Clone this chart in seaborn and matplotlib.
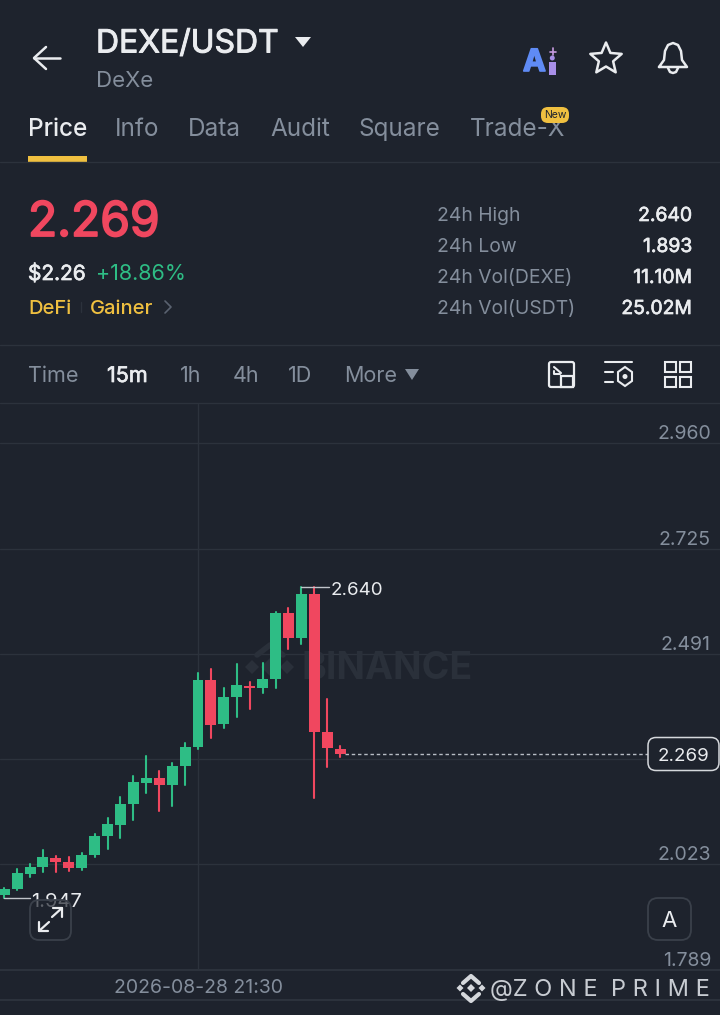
import matplotlib
matplotlib.use("Agg")
import matplotlib.pyplot as plt
import matplotlib.patheffects as pe
from matplotlib.patches import FancyBboxPatch, Polygon, Rectangle, Circle
import numpy as np
import pandas as pd
import seaborn as sns

# candle data (15m candles, oldest first)
opens = [1.955, 1.968, 2.001, 2.017, 2.037, 2.028, 2.015, 2.044, 2.086, 2.110, 2.157, 2.204, 2.215, 2.199,
         2.242, 2.284, 2.433, 2.335, 2.395, 2.420, 2.415, 2.435, 2.582, 2.526, 2.624, 2.317, 2.279]
closes = [1.968, 2.004, 2.017, 2.039, 2.028, 2.015, 2.044, 2.086, 2.113, 2.157, 2.206, 2.215, 2.199, 2.242,
          2.284, 2.433, 2.333, 2.395, 2.422, 2.415, 2.435, 2.582, 2.526, 2.624, 2.317, 2.282, 2.269]
highs = [1.970, 2.013, 2.024, 2.055, 2.042, 2.039, 2.048, 2.090, 2.126, 2.173, 2.219, 2.264, 2.231, 2.248,
         2.293, 2.448, 2.457, 2.415, 2.468, 2.428, 2.471, 2.584, 2.593, 2.640, 2.640, 2.391, 2.286]
lows = [1.947, 1.966, 1.995, 2.006, 2.006, 2.008, 2.010, 2.039, 2.057, 2.082, 2.122, 2.182, 2.142, 2.153,
        2.199, 2.279, 2.304, 2.326, 2.351, 2.368, 2.404, 2.415, 2.502, 2.513, 2.170, 2.239, 2.262]

grid_prices = [2.960, 2.725, 2.491, 2.257, 2.023, 1.789]
axis_labels = ["2.960", "2.725", "2.491", "", "2.023", "1.789"]
last_price = 2.269
high_price = 2.640
low_price = 1.947
cursor_candle = 15
cursor_label = "2026-08-28 21:30"

tabs = ["Price", "Info", "Data", "Audit", "Square", "Trade-X"]
stat_names = ["24h High", "24h Low", "24h Vol(DEXE)", "24h Vol(USDT)"]
stat_values = ["2.640", "1.893", "11.10M", "25.02M"]
intervals = ["Time", "15m", "1h", "4h", "1D", "More"]

BG = "#1e232d"
GRID = "#2c323c"
MARK = "#2a303a"
GREEN = "#2ebd85"
RED = "#f0475f"
GREY = "#848e9c"
WHITE = "#eaecef"
YELLOW = "#f0c040"

sns.set_theme(style="dark")
plt.rcParams["font.family"] = ["Inter", "DejaVu Sans"]
plt.rcParams["axes.facecolor"] = BG
plt.rcParams["figure.facecolor"] = BG

df = pd.DataFrame({"i": range(len(opens)), "open": opens, "close": closes, "high": highs, "low": lows})
df["up"] = df["close"] >= df["open"]
df["bottom"] = df[["open", "close"]].min(axis=1)
df["body"] = (df["open"] - df["close"]).abs()
wicks = df.melt(id_vars=["i", "up"], value_vars=["high", "low"], value_name="price")

fig = plt.figure(figsize=(7.2, 10.15), dpi=100)

# chart panel spans y=404..970 px of the screen
ax = fig.add_axes([0, 1 - 970 / 1015, 1, (970 - 404) / 1015])
ax.set_zorder(1)


def panel(px, py):
    return px / 720, (970 - py) / 566


for level in grid_prices:
    ax.axhline(level, color=GRID, lw=1, zorder=0)
ax.axvline(cursor_candle, color=GRID, lw=1, zorder=0)

# watermark sits behind the candles
ax.text(*panel(301, 669), "BINANCE", transform=ax.transAxes, color=MARK, fontsize=27, fontweight="bold",
        ha="left", va="center", zorder=0.5)
for px, size in [(252, 7), (270, 9), (287, 7)]:
    ax.plot(*panel(px, 667), marker="D", ms=size, color=MARK, mew=0, transform=ax.transAxes, zorder=0.5)
ax.plot(*zip(panel(257, 655), panel(270, 645), panel(283, 655)), color=MARK, lw=4, transform=ax.transAxes, zorder=0.5)

sns.lineplot(data=wicks, x="i", y="price", units="i", estimator=None, hue="up",
             palette={True: GREEN, False: RED}, lw=1.5, legend=False, ax=ax, zorder=2)
for is_up, color in [(True, GREEN), (False, RED)]:
    part = df[df["up"] == is_up]
    sns.barplot(data=part, x="i", y="body", bottom=part["bottom"].values, native_scale=True, color=color,
                saturation=1, width=0.85, errorbar=None, edgecolor=color, linewidth=0, ax=ax, zorder=3)

ax.set_xlim(-4.2 / 12.92, (720 - 4.2) / 12.92)
ax.set_ylim(2.96 - 527 * 0.002224, 2.96 + 39 * 0.002224)
ax.set_xlabel("")
ax.set_ylabel("")
ax.set_xticks([])
ax.set_yticks([])
sns.despine(ax=ax, left=True, bottom=True)

for level, text in zip(grid_prices, axis_labels):
    ax.annotate(text, (1, level), xycoords=("axes fraction", "data"), xytext=(-6.5, 0), textcoords="offset points",
                color=GREY, fontsize=14, ha="right", va="bottom", zorder=4)

# last price line, the tag itself goes on the top layer
n = len(df) - 1
ax.plot([n + 0.4, 49.9], [last_price, last_price], color="#b7bcc4", lw=1, ls=(0, (2.5, 2)), zorder=2)

# high and low markers
hi = df["high"].idxmax()
lo = df["low"].idxmin()
ax.plot([hi, hi + 2.15], [high_price, high_price], color="#c0c4ca", lw=1, zorder=2)
ax.annotate(f"{high_price:.3f}", (hi + 2.15, high_price), xytext=(1, -2.5), textcoords="offset points",
            color=WHITE, fontsize=13.5, ha="left", va="center", zorder=4)
ax.plot([lo, lo + 2.0], [low_price, low_price], color="#c0c4ca", lw=1, zorder=2)
ax.annotate(f"{low_price:.3f}", (lo + 2.0, low_price), xytext=(1, -2.5), textcoords="offset points",
            color=WHITE, fontsize=14.5, ha="left", va="center", zorder=4)

# everything around the chart is drawn in screen pixels
ui = fig.add_axes([0, 0, 1, 1])
ui.set_zorder(2)
ui.set_xlim(0, 720)
ui.set_ylim(1015, 0)
ui.axis("off")
ui.patch.set_alpha(0)


def label(x, y, s, size=14, color=GREY, ha="left", weight="normal", thick=0, **kw):
    if thick:
        kw["path_effects"] = [pe.withStroke(linewidth=thick, foreground=color)]
    return ui.text(x, y + 4, s, fontsize=size, color=color, ha=ha, va="center", fontweight=weight, **kw)


def stroke(xs, ys, color=WHITE, lw=1.8, z=7):
    ui.plot(xs, ys, color=color, lw=lw, solid_capstyle="round", solid_joinstyle="round", zorder=z)


def box(x, y, w, h, r=8, fc=BG, ec="#3a404a", lw=1.3, z=5):
    ui.add_patch(FancyBboxPatch((x + r, y + r), w - 2 * r, h - 2 * r, boxstyle=f"round,pad={r}",
                                fc=fc, ec=ec, lw=lw, zorder=z))


def diamond(cx, cy, r, color):
    ui.add_patch(Polygon([(cx - r, cy), (cx, cy - r), (cx + r, cy), (cx, cy + r)], color=color, lw=0))


# header
stroke([34, 60], [58, 58])
stroke([46, 34, 46], [47, 58, 69])
label(96, 40, "DEXE/USDT", 23, WHITE, thick=0.7)
ui.add_patch(Polygon([(295, 37), (311, 37), (303, 47)], color=WHITE, lw=0))
label(96, 77, "DeXe", 16)

label(523, 59, "A", 22, "#5f8bf5", weight="bold", thick=1.2)
ui.add_patch(Rectangle((549, 62), 6.5, 13, color="#a88fe8", lw=0))
ui.add_patch(Circle((552.3, 58), 2.5, color="#a88fe8", lw=0))
stroke([552.5, 552.5], [48, 55], "#c79be0", 1.2)
stroke([549.5, 555.5], [51.5, 51.5], "#c79be0", 1.2)

angles = np.deg2rad(np.arange(-90, 270, 36))
radii = np.tile([16.5, 7.5], 5)
star = np.c_[606 + radii * np.cos(angles), 59 + radii * np.sin(angles)]
ui.add_patch(Polygon(star, fill=False, ec=WHITE, lw=1.8, joinstyle="round"))

bell_x = [659, 664, 665, 668, 673, 678, 681, 682, 687, 659]
bell_y = [67, 60, 51, 45, 43, 45, 51, 60, 67, 67]
ui.plot(bell_x, bell_y, color=WHITE, lw=1.8, solid_joinstyle="round")
stroke([668, 670, 673, 676, 678], [68, 72, 73, 72, 68])

tab_x = [28, 115, 188, 270, 359, 470]
for j, (name, x) in enumerate(zip(tabs, tab_x)):
    label(x, 125, name, 17.5, WHITE if j == 0 else GREY, weight="medium" if j == 0 else "normal")
ui.add_patch(Rectangle((28, 156), 59, 6, color=YELLOW, lw=0))
box(541, 107, 28, 16, r=7, fc=YELLOW, ec=YELLOW, lw=0, z=4)
label(555, 111, "New", 7.5, "#1e232d", ha="center", zorder=5)
ui.plot([0, 720], [162, 162], color=GRID, lw=1)

# price block
label(28, 219, "2.269", 34.5, RED, thick=1.3)
label(28, 270, "$2.26", 15, WHITE, thick=0.5)
label(96, 270, "+18.86%", 15.5, GREEN)
label(28, 305, "DeFi", 14.5, YELLOW, weight="medium")
ui.plot([81, 81], [302, 312], color=GRID, lw=1)
label(90, 305, "Gainer", 14.5, YELLOW, weight="medium")
stroke([165, 171, 165], [301, 307, 313], "#5a6270", 1.2)

for y, name, value in zip([212, 243, 274, 305], stat_names, stat_values):
    label(437, y, name, 13.9)
    label(692, y, value, 13.9, WHITE, ha="right", thick=0.5)

ui.plot([0, 720], [345, 345], color=GRID, lw=1)

# interval row
for name, x in zip(intervals, [28, 107, 180, 233, 288, 344]):
    label(x, 372, name, 15.5, WHITE if name == "15m" else GREY, thick=0.5 if name == "15m" else 0)
ui.add_patch(Polygon([(405, 369), (419, 369), (412, 380)], color=GREY, lw=0))

box(549, 362, 25, 25, r=2, fc="none", ec=WHITE, lw=1.6)
ui.add_patch(Rectangle((561, 376), 12, 10.5, fc=BG, ec=WHITE, lw=1.6, zorder=6))
stroke([554, 561], [367, 373], WHITE, 1.5)
stroke([554, 554, 560], [371, 373.5, 373.5], WHITE, 1.5)

stroke([605, 632], [362, 362], WHITE, 1.5)
stroke([605, 613], [372, 372], WHITE, 1.5)
stroke([605, 613], [382, 382], WHITE, 1.5)
ui.add_patch(Polygon([(625, 367), (632, 372), (632, 381), (625, 386), (618, 381), (618, 372)], fill=False,
                     ec=WHITE, lw=1.5))
ui.add_patch(Circle((625, 376.5), 2.5, color=WHITE, lw=0))

for bx in [665, 680]:
    for by in [362, 377]:
        ui.add_patch(Rectangle((bx, by), 10.5, 10, fill=False, ec=WHITE, lw=1.5))

ui.plot([0, 720], [403, 403], color=GRID, lw=1)

# floating buttons and last price tag
box(648, 737.5, 71, 33, r=8, fc=BG, ec="#d5d8dc", lw=1.1, z=3)
ui.annotate(f"{last_price:.3f}", (1, last_price), xycoords=ax.get_yaxis_transform(), xytext=(-26, -2),
            textcoords="offset points", color=WHITE, fontsize=13.5, ha="center", va="center", zorder=6)
box(30, 900, 41, 40, r=9, fc=BG + "b0", ec="#3a404a")
stroke([52, 62], [917, 908], WHITE, 1.6)
stroke([53, 62, 62], [908, 908, 917], WHITE, 1.6)
stroke([39, 49], [931, 922], WHITE, 1.6)
stroke([39, 39, 48], [922, 931, 931], WHITE, 1.6)
box(648, 898, 43, 42, r=10, fc=BG, ec="#3a404a")
label(669.5, 917, "A", 16, WHITE, ha="center", zorder=6)

# bottom strip
ui.plot([0, 720], [970, 970], color=GRID, lw=1.5)
ui.plot([0, 720], [1000, 1000], color=GRID, lw=1.5)
label(198, 984, cursor_label, 14, ha="center")
diamond(460, 988, 3.5, "#d5d8dc")
diamond(482, 988, 3.5, "#d5d8dc")
diamond(471, 988, 4, "#d5d8dc")
stroke([463, 471, 479], [983, 976, 983], "#d5d8dc", 3)
stroke([463, 471, 479], [994, 1001, 994], "#d5d8dc", 3)
label(490, 986, "@Z O N E  P R I M E", 17, "#c8ccd2")

fig.savefig("out.png", dpi=100, facecolor=BG)
plt.close(fig)
